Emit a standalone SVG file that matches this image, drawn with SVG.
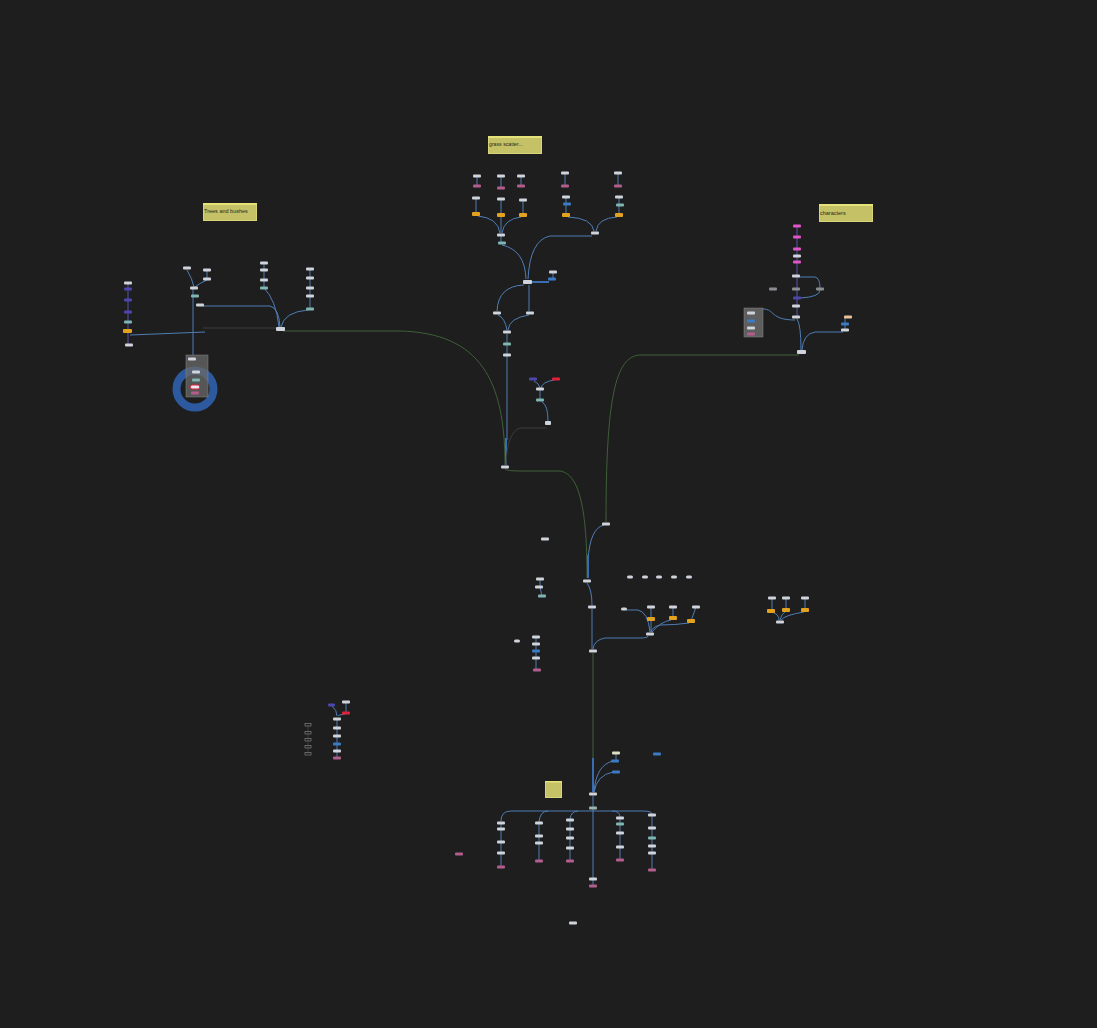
<svg xmlns="http://www.w3.org/2000/svg" width="1097" height="1028" viewBox="0 0 1097 1028">
<style>
.bg{fill:#1e1e1e}
.c{fill:none;stroke:#4f7db5;stroke-width:1}
.cb{fill:none;stroke:#3a6db0;stroke-width:2}
.cg{fill:none;stroke:#3e6038;stroke-width:1}
.cd{fill:none;stroke:#3c3c3c;stroke-width:1}
.cp{fill:none;stroke:#5a55b0;stroke-width:1}
.w{fill:#cfd4dc}
.p{fill:#4d46ad}
.t{fill:#7fb5b2}
.o{fill:#e3a21e}
.k{fill:#b35d8c}
.b{fill:#3b7bc4}
.r{fill:#e3213d}
.m{fill:#e055c8}
.g{fill:#8a8e92}
.tan{fill:#e9c39e}
.note{fill:#c5c166;stroke:#d8d47a;stroke-width:1}
.stripe{fill:#e6e27a}
.nt{font-family:"Liberation Sans",Arial,sans-serif;fill:#2a2a1a}
</style>
<rect class="bg" x="0" y="0" width="1097" height="1028"/>

<g id="connectors">
<path class="cp" d="M128,284 V344"/>
<path class="c" d="M130,335 L205,332"/>
<path class="cd" d="M203,328 H278"/>
<path class="c" d="M187,270 Q192,278 194,287"/>
<path class="c" d="M207,271 V278"/>
<path class="c" d="M207,280 Q200,283 195,287"/>
<path class="c" d="M193,289 V355"/>
<path class="c" d="M203,306 H270 Q279,308 280,327"/>
<path class="c" d="M264,263 V288 Q276,300 279,327"/>
<path class="c" d="M310,270 V309"/>
<path class="c" d="M308,310 Q284,312 281,327"/>
<path class="cg" d="M283,331 H400 C480,333 505,380 505,465"/>
<path class="c" d="M477,176 V186 M501,176 V188 M521,176 V186 M565,173 V186 M618,173 V186"/>
<path class="c" d="M476,198 V214 M501,199 V215 M523,200 V215 M566,197 V215 M619,197 V215"/>
<path class="c" d="M478,216 Q498,218 500,233"/>
<path class="c" d="M501,216 V233"/>
<path class="c" d="M521,217 Q504,219 502,233"/>
<path class="c" d="M501,236 V243"/>
<path class="c" d="M568,217 Q592,218 594,231"/>
<path class="c" d="M617,217 Q598,218 596,231"/>
<path class="c" d="M502,245 Q525,250 526,279"/>
<path class="c" d="M592,236 H550 Q530,240 528,279"/>
<path class="cb" d="M530,282 H549"/>
<path class="c" d="M553,273 V279"/>
<path class="c" d="M524,285 Q498,286 497,311"/>
<path class="c" d="M529,285 V311"/>
<path class="c" d="M498,315 Q505,318 507,330"/>
<path class="c" d="M529,315 Q509,318 508,330"/>
<path class="c" d="M507,334 V440"/>
<path class="cb" d="M506,438 V465"/>
<path class="c" d="M534,381 Q539,383 540,388"/>
<path class="c" d="M554,380 Q542,382 541,388"/>
<path class="c" d="M540,390 V400"/>
<path class="c" d="M542,402 Q548,405 548,421"/>
<path class="cd" d="M547,428 H520 Q507,432 506,465"/>
<path class="cp" d="M797,227 V317"/>
<path class="c" d="M799,277 H815 Q820,278 820,288"/>
<path class="c" d="M820,290 Q820,297 800,298"/>
<path class="c" d="M763,309 C775,309 770,320 795,320"/>
<path class="c" d="M797,319 Q801,325 801,350"/>
<path class="c" d="M845,318 V330"/>
<path class="c" d="M843,332 H815 Q803,334 802,350"/>
<path class="cg" d="M799,355 H640 C615,356 606,400 606,522"/>
<path class="cg" d="M505,469 Q507,471 520,471 H560 C582,474 587,520 587,578"/>
<path class="c" d="M604,525 Q590,528 588,560"/>
<path class="cb" d="M588,555 V578"/>
<path class="c" d="M587,583 Q592,590 592,605"/>
<path class="c" d="M592,609 V649"/>
<path class="cg" d="M593,653 V760"/>
<path class="cb" d="M593,758 V792"/>
<path class="c" d="M648,636 Q648,638 640,638 H605 Q594,640 593,649"/>
<path class="c" d="M626,610 H638 Q648,612 650,632"/>
<path class="c" d="M651,607 V619 M673,607 V618 M696,607 L691,621"/>
<path class="c" d="M651,620 V632"/>
<path class="c" d="M671,620 Q660,622 652,632"/>
<path class="c" d="M689,623 Q675,625 660,625 Q652,627 651,632"/>
<path class="c" d="M540,579 V587 L542,596"/>
<path class="c" d="M536,637 V670"/>
<path class="c" d="M772,598 V611 M786,598 V610 M805,598 V610"/>
<path class="c" d="M772,612 Q779,614 779,620"/>
<path class="c" d="M786,611 Q781,614 780,620"/>
<path class="c" d="M804,612 Q785,615 781,620"/>
<path class="c" d="M332,706 Q337,710 337,716"/>
<path class="c" d="M346,702 V713"/>
<path class="c" d="M345,714 Q338,715 338,716"/>
<path class="c" d="M337,719 V758"/>
<path class="cd" d="M308,725 V754"/>
<path class="c" d="M616,753 V760"/>
<path class="c" d="M613,761 Q596,765 594,792"/>
<path class="c" d="M613,772 Q597,775 594,792"/>
<path class="c" d="M593,796 V886"/>
<path class="c" d="M501,821 Q501,811 511,811 H643 Q652,811 652,814"/>
<path class="c" d="M539,822 Q540,811 548,811"/>
<path class="c" d="M570,819 Q571,811 578,811"/>
<path class="c" d="M620,817 Q620,811 612,811"/>
<path class="c" d="M501,822 V867 M539,823 V861 M570,820 V861 M620,818 V860 M652,815 V870"/>
</g>

<g id="note-trees"><rect class="note" x="203.5" y="203.5" width="53" height="17"/><rect class="stripe" x="203" y="203" width="54" height="2"/><text class="nt" x="204" y="213" font-size="5.5">Trees and bushes</text></g>
<g id="note-grass"><rect class="note" x="488.5" y="136.5" width="53" height="17"/><rect class="stripe" x="488" y="136" width="54" height="2"/><text class="nt" x="489" y="146" font-size="5.2">grass scatter...</text></g>
<g id="note-characters"><rect class="note" x="819.5" y="204.5" width="53" height="17"/><rect class="stripe" x="819" y="204" width="54" height="2"/><text class="nt" x="820" y="215" font-size="5.5">characters</text></g>
<g id="note-empty"><rect class="note" x="545.5" y="781.5" width="16" height="16"/><rect class="stripe" x="545" y="781" width="17" height="1.5"/></g>

<g id="ring"><circle cx="195" cy="389" r="18.5" fill="none" stroke="#2d599e" stroke-width="8"/></g>
<g id="subnet-trees"><rect x="186" y="355" width="22" height="42" fill="#6a6a6a" fill-opacity="0.75" stroke="#888" stroke-width="0.5"/></g>
<g id="subnet-chars"><rect x="744" y="308" width="19" height="29" fill="#5e5e5e" stroke="#888" stroke-width="0.5"/></g>

<g id="nodes">
<g id="t1"><rect class="w" x="124" y="281.5" width="8" height="3" rx="1"/></g>
<g id="t2"><rect class="p" x="124" y="287.5" width="8" height="3" rx="1"/></g>
<g id="t3"><rect class="p" x="124" y="298.5" width="8" height="3" rx="1"/></g>
<g id="t4"><rect class="p" x="124" y="310.5" width="8" height="3" rx="1"/></g>
<g id="t5"><rect class="t" x="124" y="320.5" width="8" height="3" rx="1"/></g>
<g id="t6"><rect class="o" x="123" y="329" width="9" height="4" rx="1"/></g>
<g id="t7"><rect class="w" x="125" y="343.5" width="8" height="3" rx="1"/></g>
<g id="t8"><rect class="w" x="183" y="266.5" width="8" height="3" rx="1"/></g>
<g id="t9"><rect class="w" x="203" y="268.5" width="8" height="3" rx="1"/></g>
<g id="t10"><rect class="w" x="203" y="277.5" width="8" height="3" rx="1"/></g>
<g id="t11"><rect class="w" x="190" y="286.5" width="8" height="3" rx="1"/></g>
<g id="t12"><rect class="t" x="191" y="294.5" width="8" height="3" rx="1"/></g>
<g id="t13"><rect class="w" x="196" y="303.5" width="8" height="3" rx="1"/></g>
<g id="t14"><rect class="w" x="260" y="261.5" width="8" height="3" rx="1"/></g>
<g id="t15"><rect class="w" x="260" y="268.5" width="8" height="3" rx="1"/></g>
<g id="t16"><rect class="w" x="260" y="278.5" width="8" height="3" rx="1"/></g>
<g id="t17"><rect class="t" x="260" y="286.5" width="8" height="3" rx="1"/></g>
<g id="t18"><rect class="w" x="306" y="267.5" width="8" height="3" rx="1"/></g>
<g id="t19"><rect class="w" x="306" y="276.5" width="8" height="3" rx="1"/></g>
<g id="t20"><rect class="w" x="306" y="286.5" width="8" height="3" rx="1"/></g>
<g id="t21"><rect class="w" x="306" y="294.5" width="8" height="3" rx="1"/></g>
<g id="t22"><rect class="t" x="306" y="307.5" width="8" height="3" rx="1"/></g>
<g id="t23"><rect class="w" x="276" y="327" width="9" height="4" rx="1"/></g>
<g id="s1"><rect class="w" x="188" y="357.5" width="8" height="3" rx="1"/></g>
<g id="s2"><rect class="w" x="192" y="370.5" width="8" height="3" rx="1"/></g>
<g id="s3"><rect class="t" x="192" y="378.5" width="8" height="3" rx="1"/></g>
<g id="s4"><rect x="190.5" y="385" width="9" height="4" rx="1.5" fill="#e8e8ee" stroke="#e3213d" stroke-width="1"/></g>
<g id="s5"><rect class="k" x="191" y="391.5" width="8" height="3" rx="1"/></g>

<g id="g1"><rect class="w" x="473" y="174.5" width="8" height="3" rx="1"/></g>
<g id="g2"><rect class="k" x="473" y="184.5" width="8" height="3" rx="1"/></g>
<g id="g3"><rect class="w" x="497" y="174.5" width="8" height="3" rx="1"/></g>
<g id="g4"><rect class="k" x="497" y="186.5" width="8" height="3" rx="1"/></g>
<g id="g5"><rect class="w" x="517" y="174.5" width="8" height="3" rx="1"/></g>
<g id="g6"><rect class="k" x="517" y="184.5" width="8" height="3" rx="1"/></g>
<g id="g7"><rect class="w" x="561" y="171.5" width="8" height="3" rx="1"/></g>
<g id="g8"><rect class="k" x="561" y="184.5" width="8" height="3" rx="1"/></g>
<g id="g9"><rect class="w" x="614" y="171.5" width="8" height="3" rx="1"/></g>
<g id="g10"><rect class="k" x="614" y="184.5" width="8" height="3" rx="1"/></g>
<g id="g11"><rect class="w" x="472" y="196.5" width="8" height="3" rx="1"/></g>
<g id="g12"><rect class="o" x="472" y="212" width="8" height="4" rx="1"/></g>
<g id="g13"><rect class="w" x="497" y="197.5" width="8" height="3" rx="1"/></g>
<g id="g14"><rect class="o" x="497" y="213" width="8" height="4" rx="1"/></g>
<g id="g15"><rect class="w" x="519" y="198.5" width="8" height="3" rx="1"/></g>
<g id="g16"><rect class="o" x="519" y="213" width="8" height="4" rx="1"/></g>
<g id="g17"><rect class="w" x="562" y="195.5" width="8" height="3" rx="1"/></g>
<g id="g18"><rect class="b" x="563" y="202.5" width="8" height="3" rx="1"/></g>
<g id="g19"><rect class="o" x="562" y="213" width="8" height="4" rx="1"/></g>
<g id="g20"><rect class="w" x="615" y="195.5" width="8" height="3" rx="1"/></g>
<g id="g21"><rect class="t" x="616" y="203.5" width="8" height="3" rx="1"/></g>
<g id="g22"><rect class="o" x="615" y="213" width="8" height="4" rx="1"/></g>
<g id="g23"><rect class="w" x="497" y="233.5" width="8" height="3" rx="1"/></g>
<g id="g24"><rect class="t" x="498" y="241.5" width="8" height="3" rx="1"/></g>
<g id="g25"><rect class="w" x="591" y="231.5" width="8" height="3" rx="1"/></g>
<g id="g26"><rect class="w" x="523" y="280" width="9" height="4" rx="1"/></g>
<g id="g27"><rect class="w" x="549" y="270.5" width="8" height="3" rx="1"/></g>
<g id="g28"><rect class="b" x="548" y="277.5" width="8" height="3" rx="1"/></g>
<g id="g29"><rect class="w" x="493" y="311.5" width="8" height="3" rx="1"/></g>
<g id="g30"><rect class="w" x="526" y="311.5" width="8" height="3" rx="1"/></g>
<g id="g31"><rect class="w" x="503" y="330.5" width="8" height="3" rx="1"/></g>
<g id="g32"><rect class="t" x="503" y="342.5" width="8" height="3" rx="1"/></g>
<g id="g33"><rect class="w" x="503" y="353.5" width="8" height="3" rx="1"/></g>
<g id="g34"><rect class="p" x="529" y="377.5" width="8" height="3" rx="1"/></g>
<g id="g35"><rect class="r" x="552" y="377.5" width="8" height="3" rx="1"/></g>
<g id="g36"><rect class="w" x="536" y="387.5" width="8" height="3" rx="1"/></g>
<g id="g37"><rect class="t" x="536" y="398.5" width="8" height="3" rx="1"/></g>
<g id="g38"><rect class="w" x="545" y="421" width="6" height="4" rx="1"/></g>
<g id="m1"><rect class="w" x="501" y="465.5" width="8" height="3" rx="1"/></g>

<g id="c1"><rect class="m" x="793" y="224.5" width="8" height="3" rx="1"/></g>
<g id="c2"><rect class="m" x="793" y="235.5" width="8" height="3" rx="1"/></g>
<g id="c3"><rect class="m" x="793" y="247.5" width="8" height="3" rx="1"/></g>
<g id="c4"><rect class="w" x="793" y="254.5" width="8" height="3" rx="1"/></g>
<g id="c5"><rect class="m" x="793" y="260.5" width="8" height="3" rx="1"/></g>
<g id="c6"><rect class="w" x="792" y="274.5" width="8" height="3" rx="1"/></g>
<g id="c7"><rect class="g" x="792" y="287.5" width="8" height="3" rx="1"/></g>
<g id="c8"><rect class="p" x="793" y="296.5" width="8" height="3" rx="1"/></g>
<g id="c9"><rect class="w" x="792" y="304.5" width="8" height="3" rx="1"/></g>
<g id="c10"><rect class="w" x="792" y="315.5" width="8" height="3" rx="1"/></g>
<g id="c11"><rect class="g" x="816" y="287.5" width="8" height="3" rx="1"/></g>
<g id="c12"><rect class="g" x="769" y="287.5" width="8" height="3" rx="1"/></g>
<g id="c13"><rect class="w" x="747" y="311.5" width="8" height="3" rx="1"/></g>
<g id="c14"><rect class="b" x="747" y="319.5" width="8" height="3" rx="1"/></g>
<g id="c15"><rect class="w" x="747" y="326.5" width="8" height="3" rx="1"/></g>
<g id="c16"><rect class="k" x="747" y="332.5" width="8" height="3" rx="1"/></g>
<g id="c17"><rect class="tan" x="844" y="315.5" width="8" height="3" rx="1"/></g>
<g id="c18"><rect class="b" x="841" y="322.5" width="8" height="3" rx="1"/></g>
<g id="c19"><rect class="w" x="841" y="328.5" width="8" height="3" rx="1"/></g>
<g id="c20"><rect class="w" x="797" y="350" width="9" height="4" rx="1"/></g>

<g id="u1"><rect class="w" x="602" y="522.5" width="8" height="3" rx="1"/></g>
<g id="u2"><rect class="w" x="541" y="537.5" width="8" height="3" rx="1"/></g>
<g id="u3"><rect class="w" x="583" y="579.5" width="8" height="3" rx="1"/></g>
<g id="u4"><rect class="w" x="588" y="605.5" width="8" height="3" rx="1"/></g>
<g id="u5"><rect class="w" x="589" y="649.5" width="8" height="3" rx="1"/></g>
<g id="u6"><rect class="w" x="536" y="577.5" width="8" height="3" rx="1"/></g>
<g id="u7"><rect class="w" x="535" y="585.5" width="8" height="3" rx="1"/></g>
<g id="u8"><rect class="t" x="538" y="594.5" width="8" height="3" rx="1"/></g>
<g id="u9"><rect class="w" x="627" y="575.5" width="6" height="3" rx="1.5"/></g>
<g id="u10"><rect class="w" x="642" y="575.5" width="6" height="3" rx="1.5"/></g>
<g id="u11"><rect class="w" x="656" y="575.5" width="6" height="3" rx="1.5"/></g>
<g id="u12"><rect class="w" x="671" y="575.5" width="6" height="3" rx="1.5"/></g>
<g id="u13"><rect class="w" x="686" y="575.5" width="6" height="3" rx="1.5"/></g>
<g id="u14"><rect class="w" x="621" y="607.5" width="6" height="3" rx="1.5"/></g>
<g id="u15"><rect class="w" x="647" y="605.5" width="8" height="3" rx="1"/></g>
<g id="u16"><rect class="o" x="647" y="617" width="8" height="4" rx="1"/></g>
<g id="u17"><rect class="w" x="669" y="605.5" width="8" height="3" rx="1"/></g>
<g id="u18"><rect class="o" x="669" y="616" width="8" height="4" rx="1"/></g>
<g id="u19"><rect class="w" x="692" y="605.5" width="8" height="3" rx="1"/></g>
<g id="u20"><rect class="o" x="687" y="619" width="8" height="4" rx="1"/></g>
<g id="u21"><rect class="w" x="646" y="632.5" width="8" height="3" rx="1"/></g>
<g id="u22"><rect class="w" x="514" y="639.5" width="6" height="3" rx="1.5"/></g>
<g id="u23"><rect class="w" x="532" y="635.5" width="8" height="3" rx="1"/></g>
<g id="u24"><rect class="w" x="532" y="642.5" width="8" height="3" rx="1"/></g>
<g id="u25"><rect class="b" x="532" y="649.5" width="8" height="3" rx="1"/></g>
<g id="u26"><rect class="w" x="532" y="656.5" width="8" height="3" rx="1"/></g>
<g id="u27"><rect class="k" x="533" y="668.5" width="8" height="3" rx="1"/></g>

<g id="r1"><rect class="w" x="768" y="596.5" width="8" height="3" rx="1"/></g>
<g id="r2"><rect class="w" x="782" y="596.5" width="8" height="3" rx="1"/></g>
<g id="r3"><rect class="w" x="801" y="596.5" width="8" height="3" rx="1"/></g>
<g id="r4"><rect class="o" x="767" y="609" width="8" height="4" rx="1"/></g>
<g id="r5"><rect class="o" x="782" y="608" width="8" height="4" rx="1"/></g>
<g id="r6"><rect class="o" x="801" y="608" width="8" height="4" rx="1"/></g>
<g id="r7"><rect class="w" x="776" y="620.5" width="8" height="3" rx="1"/></g>

<g id="l1"><rect class="p" x="328" y="703.5" width="7" height="3" rx="1"/></g>
<g id="l2"><rect class="w" x="342" y="700.5" width="8" height="3" rx="1"/></g>
<g id="l3"><rect class="r" x="342" y="711.5" width="8" height="3" rx="1"/></g>
<g id="l4"><rect class="w" x="333" y="717.5" width="8" height="3" rx="1"/></g>
<g id="l5"><rect class="w" x="333" y="726.5" width="8" height="3" rx="1"/></g>
<g id="l6"><rect class="w" x="333" y="734.5" width="8" height="3" rx="1"/></g>
<g id="l7"><rect class="b" x="333" y="742.5" width="8" height="3" rx="1"/></g>
<g id="l8"><rect class="w" x="333" y="749.5" width="8" height="3" rx="1"/></g>
<g id="l9"><rect class="k" x="333" y="756.5" width="8" height="3" rx="1"/></g>
<g id="v1"><rect x="305" y="723.5" width="6" height="2.5" fill="none" stroke="#8a8e92" stroke-width="0.6"/></g>
<g id="v2"><rect x="305" y="731.5" width="6" height="2.5" fill="none" stroke="#8a8e92" stroke-width="0.6"/></g>
<g id="v3"><rect x="305" y="738.5" width="6" height="2.5" fill="none" stroke="#8a8e92" stroke-width="0.6"/></g>
<g id="v4"><rect x="305" y="745.5" width="6" height="2.5" fill="none" stroke="#8a8e92" stroke-width="0.6"/></g>
<g id="v5"><rect x="305" y="752.5" width="6" height="2.5" fill="none" stroke="#8a8e92" stroke-width="0.6"/></g>

<g id="b1"><rect fill="#d9e0c0" x="612" y="751.5" width="8" height="3" rx="1"/></g>
<g id="b2"><rect class="b" x="611" y="759.5" width="8" height="3" rx="1"/></g>
<g id="b3"><rect class="b" x="612" y="770.5" width="8" height="3" rx="1"/></g>
<g id="b4"><rect class="b" x="653" y="752.5" width="8" height="3" rx="1"/></g>
<g id="b5"><rect class="w" x="589" y="792.5" width="8" height="3" rx="1"/></g>
<g id="b6"><rect fill="#9ab4b0" x="589" y="806.5" width="8" height="3" rx="1"/></g>
<g id="b7"><rect class="w" x="589" y="877.5" width="8" height="3" rx="1"/></g>
<g id="b8"><rect class="k" x="589" y="884.5" width="8" height="3" rx="1"/></g>
<g id="b9"><rect class="k" x="455" y="852.5" width="8" height="3" rx="1"/></g>
<g id="b10"><rect class="w" x="569" y="921.5" width="8" height="3" rx="1"/></g>

<g id="a1"><rect class="w" x="497" y="821.5" width="8" height="3" rx="1"/></g>
<g id="a2"><rect class="w" x="497" y="827.5" width="8" height="3" rx="1"/></g>
<g id="a3"><rect class="w" x="497" y="840.5" width="8" height="3" rx="1"/></g>
<g id="a4"><rect class="w" x="497" y="851.5" width="8" height="3" rx="1"/></g>
<g id="a5"><rect class="k" x="497" y="865.5" width="8" height="3" rx="1"/></g>
<g id="bb1"><rect class="w" x="535" y="821.5" width="8" height="3" rx="1"/></g>
<g id="bb2"><rect class="w" x="535" y="834.5" width="8" height="3" rx="1"/></g>
<g id="bb3"><rect class="w" x="535" y="841.5" width="8" height="3" rx="1"/></g>
<g id="bb4"><rect class="k" x="535" y="859.5" width="8" height="3" rx="1"/></g>
<g id="cc1"><rect class="w" x="566" y="818.5" width="8" height="3" rx="1"/></g>
<g id="cc2"><rect class="w" x="566" y="827.5" width="8" height="3" rx="1"/></g>
<g id="cc3"><rect class="w" x="566" y="836.5" width="8" height="3" rx="1"/></g>
<g id="cc4"><rect class="w" x="566" y="846.5" width="8" height="3" rx="1"/></g>
<g id="cc5"><rect class="k" x="566" y="859.5" width="8" height="3" rx="1"/></g>
<g id="dd1"><rect class="w" x="616" y="816.5" width="8" height="3" rx="1"/></g>
<g id="dd2"><rect class="t" x="616" y="822.5" width="8" height="3" rx="1"/></g>
<g id="dd3"><rect class="w" x="616" y="831.5" width="8" height="3" rx="1"/></g>
<g id="dd4"><rect class="w" x="616" y="845.5" width="8" height="3" rx="1"/></g>
<g id="dd5"><rect class="k" x="616" y="858.5" width="8" height="3" rx="1"/></g>
<g id="ee1"><rect class="w" x="648" y="813.5" width="8" height="3" rx="1"/></g>
<g id="ee2"><rect class="w" x="648" y="826.5" width="8" height="3" rx="1"/></g>
<g id="ee3"><rect class="t" x="648" y="836.5" width="8" height="3" rx="1"/></g>
<g id="ee4"><rect class="w" x="648" y="844.5" width="8" height="3" rx="1"/></g>
<g id="ee5"><rect class="w" x="648" y="851.5" width="8" height="3" rx="1"/></g>
<g id="ee6"><rect class="k" x="648" y="868.5" width="8" height="3" rx="1"/></g>
</g>
</svg>
